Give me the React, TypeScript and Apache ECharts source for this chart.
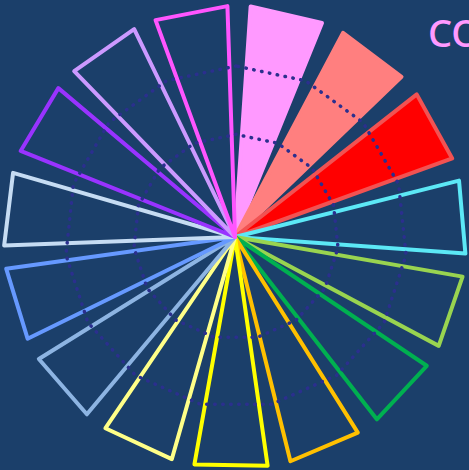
import React, { useEffect, useRef } from 'react';
import * as echarts from 'echarts';

// ---- data ----
const categories = [
  'C1', 'C2', 'C3', 'C4', 'C5', 'C6', 'C7', 'C8',
  'C9', 'C10', 'C11', 'C12', 'C13', 'C14', 'C15',
];
const values = [100, 100, 100, 100, 100, 100, 100, 100, 100, 100, 100, 100, 100, 100, 100];
const filled = [true, true, true, false, false, false, false, false, false, false, false, false, false, false, false];
const titleText = 'CO';
const gridMax = 100;
const gridSplits = 5;
const gridVisibleLevels = [3, 5];

// ---- styles ----
const barColors = [
  '#ff99ff', '#ff7f7f', '#ff0000', '#5ce8f6', '#99d450', '#00b050', '#ffc000', '#ffff00',
  '#ffff88', '#8db4e2', '#6699ff', '#c6dcf3', '#9933ff', '#cc99ff', '#ff55ff',
];
const borderColors = [
  '#ff99ff', '#ff7f7f', '#f25252', '#5ce8f6', '#99d450', '#00b050', '#ffc000', '#ffff00',
  '#ffff88', '#8db4e2', '#6699ff', '#c6dcf3', '#9933ff', '#cc99ff', '#ff55ff',
];
const BG = '#1b3f6a';
const DOT = '#2b2f8e';
const BAR_RATIO = 0.76;

export default function App() {
  const ref = useRef<HTMLDivElement>(null);

  useEffect(() => {
    if (!ref.current) return;
    const chart = echarts.init(ref.current, undefined, { renderer: 'svg' });

    const splitColors: string[] = [];
    for (let k = 0; k <= gridSplits; k++) {
      splitColors.push(gridVisibleLevels.includes(k) ? DOT : 'rgba(0,0,0,0)');
    }

    chart.setOption({
      animation: false,
      backgroundColor: BG,
      title: {
        text: titleText,
        left: 423,
        top: 8,
        textStyle: {
          color: '#ff99ff',
          fontSize: 38,
          fontWeight: 500,
          fontFamily: 'Noto Sans',
        },
      },
      polar: { center: [235, 237], radius: 231 },
      angleAxis: {
        type: 'category',
        data: categories,
        startAngle: 89,
        axisLine: { show: false },
        axisTick: { show: false },
        axisLabel: { show: false },
        splitLine: { show: false },
      },
      radiusAxis: {
        type: 'value',
        min: 0,
        max: 100,
        axisLine: { show: false },
        axisTick: { show: false },
        axisLabel: { show: false },
        splitLine: { show: false },
      },
      radar: {
        center: [236, 237],
        radius: 171,
        startAngle: 90,
        splitNumber: gridSplits,
        z: 5,
        indicator: categories.map((c) => ({ name: c, max: gridMax })),
        axisName: { show: false },
        axisLine: { show: false },
        axisTick: { show: false },
        splitArea: { show: false },
        splitLine: {
          show: true,
          lineStyle: {
            color: splitColors,
            width: 3.5,
            type: [0.5, 7.5],
            cap: 'round',
          },
        },
      },
      series: [
        {
          type: 'custom',
          coordinateSystem: 'polar',
          z: 1,
          encode: { radius: 0, angle: 1 },
          data: values.map((v, i) => [v, i]),
          renderItem: (params: any, api: any) => {
            const r = api.value(0);
            const i = api.value(1);
            const c = api.coord([0, i]);
            const p = api.coord([r, i]);
            const band = api.size([0, 1], [r, i])[1];
            const theta = Math.atan2(p[1] - c[1], p[0] - c[0]);
            const dist = Math.hypot(p[0] - c[0], p[1] - c[1]);
            const half = (band * BAR_RATIO) / 2;
            const idx = params.dataIndex;
            const points = [
              [c[0], c[1]],
              [c[0] + dist * Math.cos(theta - half), c[1] + dist * Math.sin(theta - half)],
              [c[0] + dist * Math.cos(theta + half), c[1] + dist * Math.sin(theta + half)],
            ];
            return {
              type: 'polygon',
              shape: { points },
              style: {
                fill: filled[idx] ? barColors[idx] : 'none',
                stroke: borderColors[idx],
                lineWidth: 4,
                lineJoin: 'round',
              },
            };
          },
        },
      ],
    });

    return () => chart.dispose();
  }, []);

  return (
    <div
      ref={ref}
      style={{ position: 'fixed', left: 0, top: 0, width: 469, height: 470 }}
    />
  );
}
